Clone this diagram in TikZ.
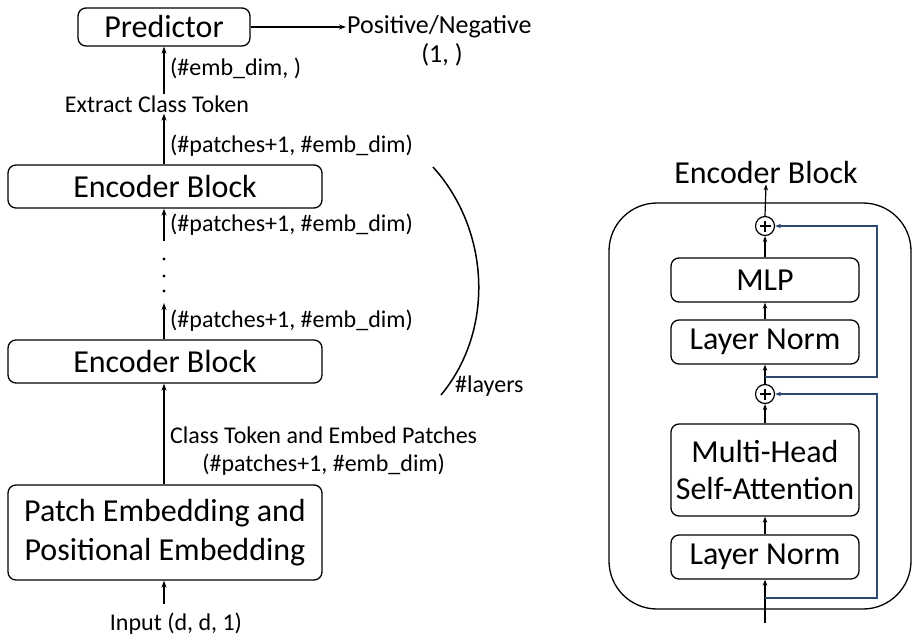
\documentclass[tikz,border=0pt]{standalone}
\usepackage{fontspec}
\setmainfont{Carlito}
\usetikzlibrary{arrows.meta,calc}
\definecolor{resblue}{RGB}{47,72,110}
\tikzset{
  box/.style={draw, line width=1.3pt, rounded corners=8pt, inner sep=0pt, align=center, font=\fontsize{32}{39}\selectfont},
  lbl/.style={inner sep=1pt, font=\fontsize{24}{28}\selectfont},
  arr/.style={line width=1.6pt, -{Stealth[length=7pt,width=5pt]}},
  sarr/.style={line width=1.2pt, -{Stealth[length=6pt,width=4.5pt]}},
  res/.style={draw=resblue, line width=1.2pt, -{Stealth[length=6pt,width=4.5pt]}, color=resblue},
  plus/.style={circle, draw, line width=1.2pt, minimum size=19pt, inner sep=0pt,
    path picture={\draw[line width=1.2pt] ([xshift=-5.5pt]path picture bounding box.center) -- ([xshift=5.5pt]path picture bounding box.center)
    ([yshift=-5.5pt]path picture bounding box.center) -- ([yshift=5.5pt]path picture bounding box.center);}},
}
\begin{document}
\begin{tikzpicture}[x=1pt,y=-1pt]
\useasboundingbox (0,0) rectangle (912,637);
% left column
\node[box, minimum width=172pt, minimum height=38pt] (pred) at (164,27) {Predictor};
\node[lbl, anchor=west, font=\fontsize{26}{30}\selectfont] (pn) at (346,27) {Positive/Negative};
\node[lbl, font=\fontsize{26}{30}\selectfont] (pn2) at (442,55) {(1, )};
\draw[arr] (pred.east) -- (pn.west);
\node[lbl] (ext) at (157,104) {Extract Class Token};
\draw[arr] (ext.north -| pred) -- (pred.south);
\node[lbl, anchor=west] (l1) at (169,68) {(\#emb\_dim, )};
\node[box, minimum width=314pt, minimum height=43pt] (enc1) at (165,186.5) {Encoder Block};
\draw[arr] (enc1.north -| pred) -- (ext.south -| pred);
\node[lbl, anchor=west] (l2) at (169,146) {(\#patches+1, \#emb\_dim)};
\coordinate (d1) at (164,241);
\draw[arr] (d1) -- (enc1.south -| d1);
\node[lbl, anchor=west] (l3) at (169,225) {(\#patches+1, \#emb\_dim)};
\fill (164,259) circle (1.6pt) (164,276) circle (1.6pt) (164,291) circle (1.6pt);
\node[box, minimum width=314pt, minimum height=43pt] (enc2) at (165,361.5) {Encoder Block};
\coordinate (d2) at (164,303);
\draw[arr] (enc2.north -| d2) -- (d2);
\node[lbl, anchor=west] (l4) at (169,321) {(\#patches+1, \#emb\_dim)};
\node[box, minimum width=314pt, minimum height=95pt] (patch) at (165,532.5) {Patch Embedding and\\Positional Embedding};
\draw[arr] (patch.north -| d2) -- (enc2.south -| d2);
\node[lbl, anchor=west, align=center] (l5) at (169,451) {Class Token and Embed Patches\\(\#patches+1, \#emb\_dim)};
\node[lbl] (inp) at (176,624) {Input (d, d, 1)};
\coordinate (i0) at (164,604);
\draw[arr] (i0) -- (patch.south -| i0);
% layers arc
\coordinate (a1) at (433,167);
\coordinate (a2) at (441,395);
\draw[line width=1.5pt] (a1) .. controls (490,230) and (495,330) .. (a2);
\node[lbl, anchor=west] (lay) at (454,386) {\#layers};
% right: encoder block detail
\node[lbl, font=\fontsize{32}{38}\selectfont] (title) at (766,172) {Encoder Block};
\draw[line width=1.3pt, rounded corners=48pt] (609,203) rectangle (911,609);
\node[plus] (p1) at (765,226) {};
\node[plus] (p2) at (765,394) {};
\node[box, minimum width=188pt, minimum height=44pt] (mlp) at (765,280) {MLP};
\node[box, minimum width=188pt, minimum height=44pt] (ln1) at (765,342) {Layer Norm};
\node[box, minimum width=188pt, minimum height=92pt, font=\fontsize{32}{37}\selectfont] (mhsa) at (765,470) {Multi-Head\\Self-Attention};
\node[box, minimum width=188pt, minimum height=44pt] (ln2) at (765,557) {Layer Norm};
\draw[sarr] (p1.north) -- (title.south);
\draw[sarr] (mlp.north) -- (p1.south);
\draw[sarr] (ln1.north) -- (mlp.south);
\draw[sarr] (p2.north) -- (ln1.south);
\draw[sarr] (mhsa.north) -- (p2.south);
\draw[sarr] (ln2.north) -- (mhsa.south);
\coordinate (in) at (765,623);
\draw[sarr] (in) -- (ln2.south);
\coordinate (r1) at (765,377);
\coordinate (r2) at (765,598);
\coordinate (k1) at (877,377);
\coordinate (k2) at (877,598);
\draw[res] (r1) -- (k1) -- (k1 |- p1) -- (p1.east);
\draw[res] (r2) -- (k2) -- (k2 |- p2) -- (p2.east);
\end{tikzpicture}
\end{document}
